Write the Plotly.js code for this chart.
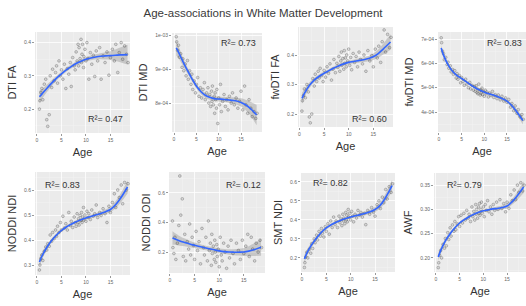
<!DOCTYPE html>
<html>
<head>
<meta charset="utf-8">
<script src="https://cdn.plot.ly/plotly-3.0.1.min.js"></script>
<style>html,body{margin:0;padding:0;background:#fff;}#chart{width:526px;height:306px;}</style>
</head>
<body>
<div id="chart"></div>
<script>
// ---------- data ----------
const age = [0.5,0.6,0.8,1.0,1.2,1.5,1.8,2.0,2.2,2.5,
2.7,3.0,3.2,3.5,3.8,4.0,4.2,4.5,4.8,5.0,
5.3,5.6,5.9,6.2,6.5,6.8,7.0,7.3,7.6,7.8,
8.0,8.2,8.4,8.5,8.6,8.8,9.0,9.1,9.2,9.3,
9.5,9.6,9.8,10.0,10.2,10.4,10.6,10.9,11.2,11.5,
11.8,12.1,12.4,12.8,13.1,13.5,13.9,14.3,14.7,15.0,
15.4,15.8,16.1,16.5,16.8,17.2,17.5,17.9,18.3,18.6];

const dtiFA = [0.200,0.225,0.250,0.262,0.228,0.275,0.290,0.168,0.148,0.183,
0.300,0.265,0.320,0.285,0.310,0.330,0.278,0.345,0.300,0.318,
0.290,0.335,0.262,0.322,0.305,0.340,0.268,0.355,0.330,0.318,
0.372,0.345,0.395,0.330,0.385,0.352,0.410,0.340,0.365,0.395,
0.325,0.358,0.380,0.345,0.400,0.352,0.290,0.370,0.335,0.362,
0.298,0.375,0.345,0.385,0.290,0.360,0.340,0.372,0.302,0.355,
0.380,0.345,0.395,0.310,0.370,0.400,0.350,0.390,0.365,0.340];

const dtiMD = [9.95e-4,9.80e-4,9.55e-4,9.70e-4,9.35e-4,9.45e-4,9.05e-4,9.30e-4,8.95e-4,9.15e-4,
8.80e-4,9.25e-4,8.70e-4,8.95e-4,8.55e-4,8.85e-4,8.40e-4,8.65e-4,8.30e-4,8.55e-4,
8.75e-4,8.20e-4,8.45e-4,8.15e-4,8.40e-4,8.60e-4,8.10e-4,8.30e-4,8.45e-4,8.00e-4,
8.25e-4,7.90e-4,8.35e-4,8.05e-4,8.50e-4,7.95e-4,8.20e-4,7.70e-4,8.30e-4,8.10e-4,
7.85e-4,8.40e-4,7.40e-4,8.15e-4,7.95e-4,8.55e-4,7.75e-4,8.05e-4,8.25e-4,7.90e-4,
8.10e-4,7.80e-4,8.20e-4,8.00e-4,8.30e-4,7.95e-4,8.15e-4,7.85e-4,8.05e-4,8.35e-4,
7.80e-4,8.50e-4,7.95e-4,7.70e-4,8.10e-4,7.85e-4,7.60e-4,7.75e-4,7.55e-4,7.70e-4];

const fwFA = [0.210,0.245,0.262,0.285,0.255,0.300,0.275,0.190,0.170,0.200,
0.320,0.295,0.335,0.310,0.345,0.322,0.355,0.330,0.310,0.348,
0.325,0.360,0.338,0.370,0.315,0.352,0.385,0.340,0.372,0.358,
0.395,0.345,0.380,0.410,0.365,0.388,0.352,0.415,0.372,0.390,
0.360,0.400,0.380,0.420,0.365,0.392,0.350,0.405,0.375,0.395,
0.360,0.410,0.385,0.370,0.400,0.345,0.415,0.380,0.398,0.360,
0.420,0.390,0.430,0.375,0.445,0.485,0.410,0.470,0.425,0.460];

const fwMD = [7.05e-4,6.85e-4,6.50e-4,6.40e-4,6.15e-4,6.25e-4,5.95e-4,6.05e-4,5.80e-4,5.90e-4,
5.65e-4,5.75e-4,5.55e-4,5.70e-4,5.40e-4,5.58e-4,5.35e-4,5.50e-4,5.20e-4,5.42e-4,
5.25e-4,5.10e-4,5.35e-4,5.15e-4,5.00e-4,5.22e-4,4.95e-4,5.10e-4,4.90e-4,5.05e-4,
4.85e-4,5.08e-4,4.80e-4,4.95e-4,4.75e-4,5.15e-4,4.88e-4,4.70e-4,4.92e-4,4.78e-4,
4.98e-4,4.72e-4,4.85e-4,4.65e-4,4.90e-4,4.75e-4,4.82e-4,4.62e-4,4.78e-4,4.68e-4,
4.85e-4,4.60e-4,4.72e-4,4.55e-4,4.70e-4,4.50e-4,4.65e-4,4.45e-4,4.58e-4,4.40e-4,
4.52e-4,4.20e-4,4.35e-4,4.05e-4,4.25e-4,3.95e-4,4.10e-4,3.80e-4,3.90e-4,3.70e-4];

const noddiNDI = [0.280,0.300,0.325,0.340,0.318,0.355,0.372,0.360,0.385,0.375,
0.420,0.395,0.430,0.405,0.440,0.415,0.455,0.430,0.470,0.440,
0.495,0.448,0.465,0.440,0.510,0.458,0.475,0.450,0.492,0.468,
0.455,0.505,0.470,0.485,0.460,0.498,0.478,0.510,0.470,0.492,
0.530,0.480,0.500,0.475,0.515,0.490,0.505,0.482,0.520,0.495,
0.505,0.540,0.490,0.510,0.498,0.525,0.505,0.470,0.535,0.510,
0.550,0.585,0.530,0.600,0.570,0.620,0.545,0.630,0.600,0.625];

const noddiODI = [0.410,0.230,0.190,0.300,0.150,0.260,0.380,0.715,0.450,0.560,
0.170,0.320,0.140,0.270,0.220,0.390,0.180,0.300,0.245,0.150,
0.340,0.210,0.270,0.120,0.360,0.230,0.180,0.300,0.140,0.410,
0.210,0.260,0.110,0.320,0.190,0.240,0.150,0.280,0.200,0.130,
0.250,0.170,0.220,0.100,0.300,0.180,0.140,0.260,0.200,0.090,
0.240,0.160,0.280,0.190,0.120,0.260,0.210,0.150,0.280,0.190,
0.240,0.320,0.170,0.300,0.220,0.140,0.260,0.200,0.280,0.230];

const smtNDI = [0.150,0.175,0.205,0.230,0.200,0.245,0.225,0.275,0.250,0.300,
0.280,0.320,0.295,0.340,0.315,0.355,0.330,0.310,0.365,0.340,
0.380,0.325,0.395,0.360,0.415,0.375,0.395,0.360,0.420,0.385,
0.405,0.370,0.430,0.395,0.410,0.380,0.440,0.400,0.425,0.390,
0.455,0.415,0.435,0.400,0.445,0.420,0.390,0.430,0.410,0.450,
0.425,0.440,0.415,0.435,0.375,0.450,0.430,0.465,0.440,0.420,
0.480,0.500,0.460,0.520,0.490,0.560,0.510,0.575,0.545,0.590];

const awf = [0.180,0.190,0.205,0.215,0.200,0.228,0.220,0.240,0.225,0.252,
0.238,0.262,0.245,0.268,0.255,0.275,0.258,0.270,0.285,0.265,
0.288,0.272,0.292,0.278,0.298,0.282,0.290,0.275,0.305,0.285,
0.296,0.278,0.310,0.290,0.300,0.282,0.305,0.292,0.312,0.288,
0.300,0.315,0.292,0.305,0.285,0.310,0.298,0.318,0.295,0.305,
0.290,0.310,0.298,0.315,0.300,0.320,0.302,0.312,0.295,0.315,
0.302,0.330,0.318,0.340,0.320,0.350,0.335,0.355,0.338,0.350];

// fitted curves (cubic fits) and confidence half-widths
const fitAge = [0.5,1,2,3,4,5,6,7,8,9,10,11,12,13,14,15,16,17,18.5];
const dtiFAFit = [0.237,0.245,0.262,0.278,0.293,0.306,0.318,0.328,0.337,0.344,0.350,0.354,0.357,0.359,0.360,0.361,0.362,0.363,0.364];
const dtiFACI  = [0.018,0.015,0.011,0.009,0.007,0.006,0.006,0.006,0.006,0.006,0.006,0.007,0.008,0.009,0.011,0.013,0.017,0.022,0.030];
const dtiMDFit = [9.62e-4,9.50e-4,9.22e-4,8.96e-4,8.72e-4,8.50e-4,8.34e-4,8.23e-4,8.17e-4,8.13e-4,8.12e-4,8.11e-4,8.10e-4,8.08e-4,8.06e-4,8.02e-4,7.95e-4,7.85e-4,7.65e-4];
const dtiMDCI  = [0.22e-4,0.18e-4,0.12e-4,0.09e-4,0.08e-4,0.07e-4,0.07e-4,0.07e-4,0.07e-4,0.07e-4,0.07e-4,0.07e-4,0.08e-4,0.09e-4,0.10e-4,0.12e-4,0.15e-4,0.20e-4,0.30e-4];
const fwFAFit  = [0.253,0.270,0.297,0.315,0.328,0.338,0.347,0.356,0.364,0.370,0.375,0.378,0.381,0.384,0.388,0.394,0.405,0.420,0.444];
const fwFACI   = [0.018,0.015,0.010,0.008,0.007,0.006,0.006,0.006,0.006,0.006,0.006,0.006,0.007,0.008,0.009,0.011,0.014,0.018,0.026];
const fwMDFit  = [6.63e-4,6.35e-4,5.95e-4,5.68e-4,5.50e-4,5.38e-4,5.25e-4,5.12e-4,5.00e-4,4.90e-4,4.82e-4,4.75e-4,4.70e-4,4.63e-4,4.55e-4,4.45e-4,4.28e-4,4.05e-4,3.65e-4];
const fwMDCI   = [0.12e-4,0.10e-4,0.07e-4,0.06e-4,0.05e-4,0.05e-4,0.05e-4,0.05e-4,0.05e-4,0.05e-4,0.05e-4,0.05e-4,0.05e-4,0.05e-4,0.06e-4,0.07e-4,0.08e-4,0.11e-4,0.16e-4];
const ndiFit   = [0.312,0.335,0.370,0.398,0.420,0.438,0.452,0.463,0.473,0.481,0.488,0.494,0.500,0.506,0.513,0.522,0.540,0.565,0.612];
const ndiCI    = [0.018,0.015,0.010,0.008,0.007,0.006,0.006,0.006,0.006,0.006,0.006,0.006,0.007,0.008,0.009,0.011,0.014,0.018,0.026];
const odiFit   = [0.295,0.289,0.275,0.265,0.255,0.246,0.237,0.229,0.222,0.215,0.208,0.203,0.200,0.199,0.199,0.200,0.206,0.215,0.232];
const odiCI    = [0.045,0.040,0.032,0.026,0.022,0.019,0.017,0.016,0.016,0.016,0.016,0.017,0.018,0.020,0.023,0.027,0.034,0.042,0.058];
const smtFit   = [0.195,0.225,0.270,0.305,0.335,0.358,0.375,0.388,0.398,0.407,0.415,0.422,0.428,0.435,0.443,0.455,0.475,0.510,0.580];
const smtCI    = [0.020,0.017,0.012,0.010,0.008,0.008,0.008,0.008,0.007,0.007,0.007,0.008,0.009,0.010,0.011,0.013,0.016,0.021,0.030];
const awfFit   = [0.202,0.215,0.235,0.250,0.262,0.272,0.279,0.285,0.290,0.294,0.297,0.299,0.301,0.302,0.304,0.307,0.315,0.326,0.346];
const awfCI    = [0.008,0.007,0.005,0.004,0.003,0.003,0.003,0.003,0.003,0.003,0.003,0.003,0.003,0.004,0.004,0.005,0.006,0.008,0.012];

// labels
const metricNames = ["DTI FA","DTI MD","fwDTI FA","fwDTI MD","NODDI NDI","NODDI ODI","SMT NDI","AWF"];
const r2Labels = ["R\u00b2= 0.47","R\u00b2= 0.73","R\u00b2= 0.60","R\u00b2= 0.83","R\u00b2= 0.83","R\u00b2= 0.12","R\u00b2= 0.82","R\u00b2= 0.79"];
const xTicks = [0,5,10,15];
const xTickText = ["0","5","10","15"];
const yTickVals = [[0.2,0.3,0.4],[8e-4,9e-4,1e-3],[0.2,0.3,0.4],[4e-4,5e-4,6e-4,7e-4],[0.3,0.4,0.5,0.6],[0.2,0.4,0.6],[0.2,0.3,0.4,0.5,0.6],[0.20,0.25,0.30,0.35]];
const yTickText = [["0.2","0.3","0.4"],["8e-04","9e-04","1e-03"],["0.2","0.3","0.4"],["4e-04","5e-04","6e-04","7e-04"],["0.3","0.4","0.5","0.6"],["0.2","0.4","0.6"],["0.2","0.3","0.4","0.5","0.6"],["0.20","0.25","0.30","0.35"]];

// ---------- layout geometry (pixels) ----------
const W = 526, H = 306;
const boxes = [ // [left,right,top,bottom]
  [35,130,32,133],[172,262,33,132],[298,393,27,127],[438,526,32,132],
  [35,130,172,275],[169,265,172,273],[301,395,173,272],[434,526,173,272]];
const xRanges = [[-0.4,19.0],[-0.45,19.7],[-0.3,19.0],[-0.2,19.2],[-0.4,19.0],[-0.2,19.3],[-0.2,19.1],[-0.4,19.0]];
const yRanges = [[0.128,0.432],[7.15e-4,1.006e-3],[0.156,0.495],[3.18e-4,7.29e-4],[0.26,0.672],[0.058,0.742],[0.126,0.647],[0.171,0.375]];
const r2Pos = [[105,119],[238,43],[369,119],[504,43],[62,185],[243,185],[330,183],[464,185]];

const series = [dtiFA,dtiMD,fwFA,fwMD,noddiNDI,noddiODI,smtNDI,awf];
const fits = [dtiFAFit,dtiMDFit,fwFAFit,fwMDFit,ndiFit,odiFit,smtFit,awfFit];
const cis = [dtiFACI,dtiMDCI,fwFACI,fwMDCI,ndiCI,odiCI,smtCI,awfCI];

const traces = [];
const layout = {
  width: W, height: H,
  margin: {l:0,r:0,t:0,b:0},
  paper_bgcolor: '#ffffff',
  showlegend: false,
  font: {family: 'Liberation Sans, Arial, sans-serif', color: '#333'},
  title: {text: 'Age-associations in White Matter Development', x: 0.5, xanchor: 'center', y: 1 - 13/H, yanchor: 'middle',
          font: {size: 11.5, color: '#3a3a3a', family: 'Liberation Sans, Arial, sans-serif'}},
  annotations: []
};

for (let i = 0; i < 8; i++) {
  const s = i === 0 ? '' : String(i + 1);
  const xa = 'x' + s, ya = 'y' + s;
  const lower = fits[i].map((v, k) => v - cis[i][k]);
  const upper = fits[i].map((v, k) => v + cis[i][k]);
  traces.push({x: fitAge, y: lower, xaxis: xa, yaxis: ya, type: 'scatter', mode: 'lines',
               line: {width: 0, shape: 'spline'}, hoverinfo: 'skip'});
  traces.push({x: fitAge, y: upper, xaxis: xa, yaxis: ya, type: 'scatter', mode: 'lines',
               line: {width: 0, shape: 'spline'}, fill: 'tonexty', fillcolor: 'rgba(153,153,153,0.45)', hoverinfo: 'skip'});
  traces.push({x: age, y: series[i], xaxis: xa, yaxis: ya, type: 'scatter', mode: 'markers',
               marker: {size: 2.8, color: 'rgba(80,80,80,0.15)', line: {width: 0.5, color: 'rgba(0,0,0,0.4)'}}});
  traces.push({x: fitAge, y: fits[i], xaxis: xa, yaxis: ya, type: 'scatter', mode: 'lines',
               line: {color: '#3366FF', width: 1.6, shape: 'spline'}});

  const b = boxes[i];
  const xMinor = [2.5,7.5,12.5,17.5];
  const yv = yTickVals[i];
  const step = yv[1] - yv[0];
  const yMinor = [yv[0] - step/2].concat(yv.map(v => v + step/2));
  layout['xaxis' + s] = {
    domain: [b[0]/W, b[1]/W], anchor: ya, range: xRanges[i],
    tickmode: 'array', tickvals: xTicks, ticktext: xTickText,
    ticks: 'outside', ticklen: 2, tickwidth: 0.6, tickcolor: '#555',
    tickfont: {size: 5, color: '#666'},
    showgrid: true, gridcolor: '#ffffff', gridwidth: 0.8,
    minor: {tickmode: 'array', tickvals: xMinor, showgrid: true, gridcolor: '#f6f6f6', gridwidth: 0.4},
    zeroline: false, showline: false,
    title: {text: 'Age', font: {size: 11, color: '#333'}, standoff: 6}
  };
  layout['yaxis' + s] = {
    domain: [1 - b[3]/H, 1 - b[2]/H], anchor: xa, range: yRanges[i],
    tickmode: 'array', tickvals: yv, ticktext: yTickText[i],
    ticks: 'outside', ticklen: 2, tickwidth: 0.6, tickcolor: '#555',
    tickfont: {size: 5, color: '#666'},
    showgrid: true, gridcolor: '#ffffff', gridwidth: 0.8,
    minor: {tickmode: 'array', tickvals: yMinor, showgrid: true, gridcolor: '#f6f6f6', gridwidth: 0.4},
    zeroline: false, showline: false,
    title: {text: metricNames[i], font: {size: 11, color: '#333'}, standoff: 5}
  };
  layout.annotations.push({xref: 'paper', yref: 'paper', x: r2Pos[i][0]/W, y: 1 - r2Pos[i][1]/H,
    xanchor: 'center', yanchor: 'middle', showarrow: false, text: r2Labels[i],
    font: {size: 9, color: '#333'}});
}
// plot backgrounds via shapes
layout.shapes = boxes.map(b => ({type: 'rect', xref: 'paper', yref: 'paper', layer: 'below',
  x0: b[0]/W, x1: b[1]/W, y0: 1 - b[3]/H, y1: 1 - b[2]/H, fillcolor: '#ebebeb', line: {width: 0}}));

Plotly.newPlot('chart', traces, layout, {staticPlot: true, displayModeBar: false});
</script>
</body>
</html>
